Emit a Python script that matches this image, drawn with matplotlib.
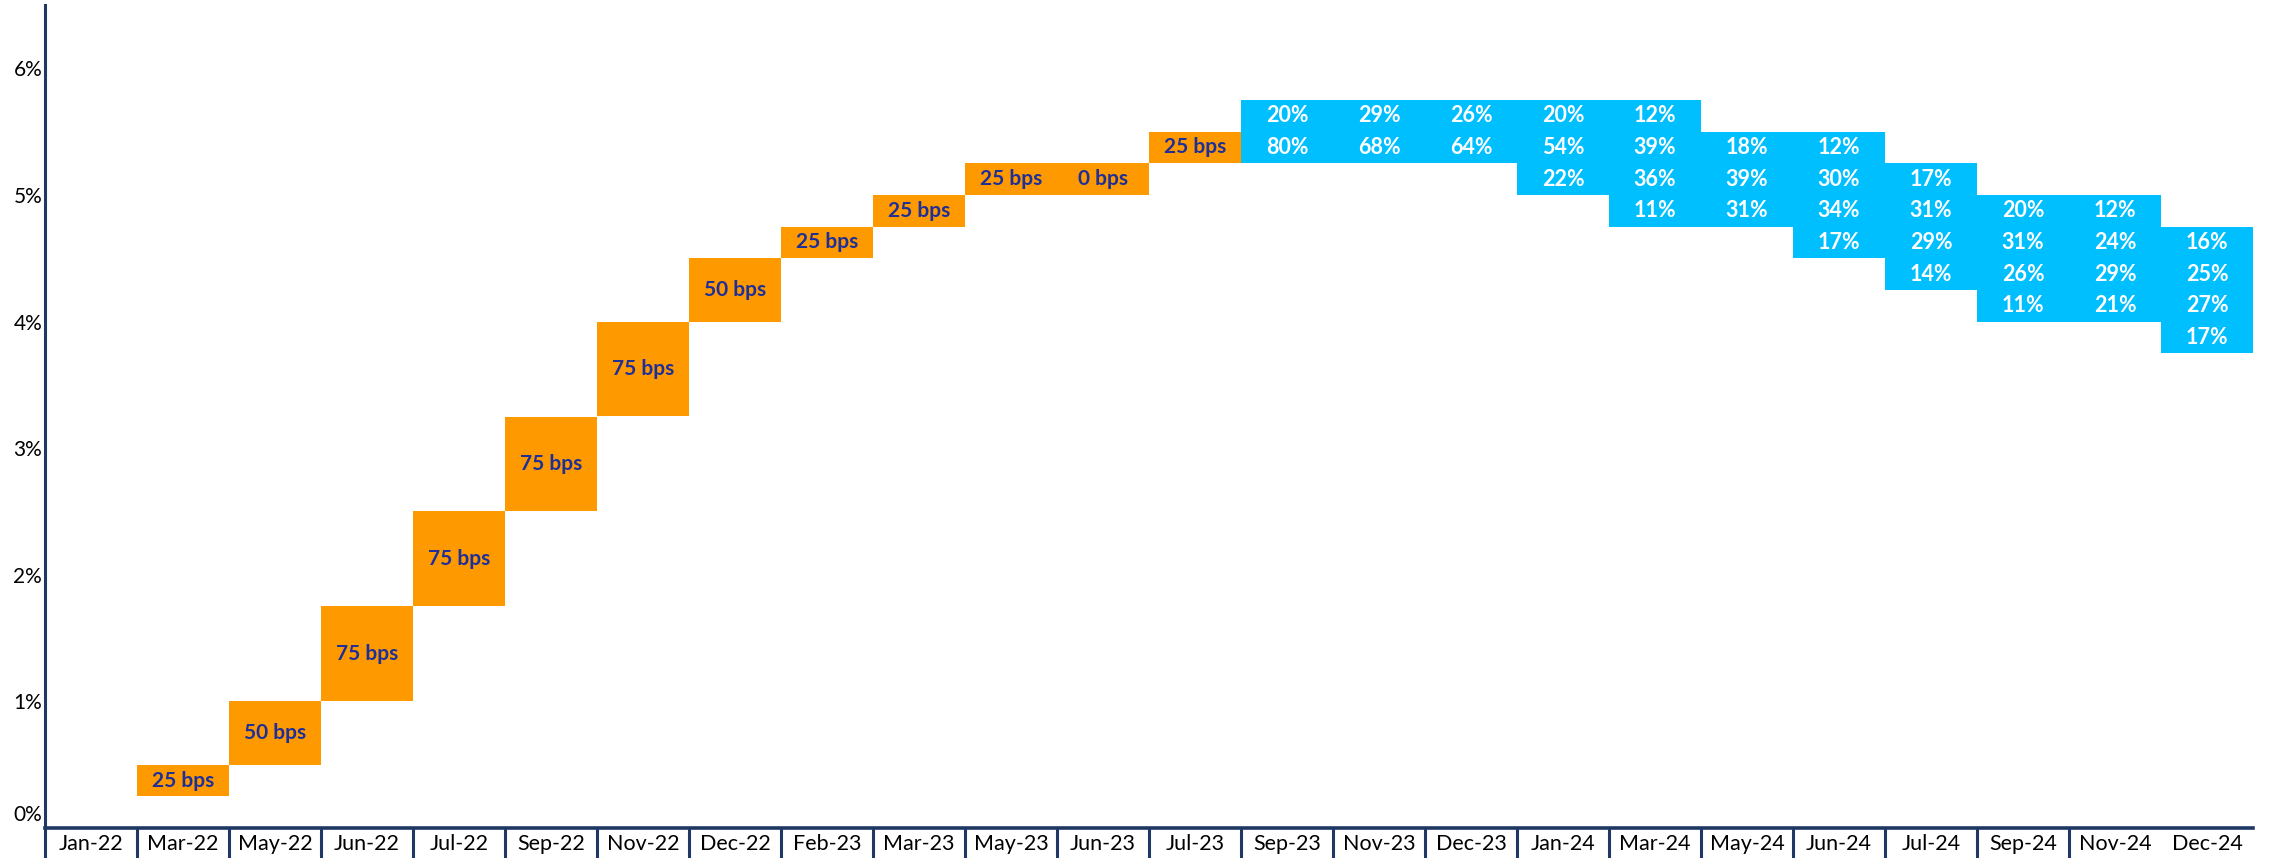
import numpy as np
import matplotlib
matplotlib.use('Agg')
import matplotlib.pyplot as plt
import matplotlib.transforms as mtransforms

plt.rcParams['font.family'] = ['Lato', 'DejaVu Sans']

ORANGE = '#FF9900'
BLUE = '#00BFFF'
NAVY = '#1F3864'
TEXT_BLUE = '#1F2F98'

months = ['Jan-22', 'Mar-22', 'May-22', 'Jun-22', 'Jul-22', 'Sep-22', 'Nov-22', 'Dec-22',
          'Feb-23', 'Mar-23', 'May-23', 'Jun-23', 'Jul-23', 'Sep-23', 'Nov-23', 'Dec-23',
          'Jan-24', 'Mar-24', 'May-24', 'Jun-24', 'Jul-24', 'Sep-24', 'Nov-24', 'Dec-24']

# realised hikes (Mar-22 .. Jul-23): range covered by the move, in %
hike_months = months[1:13]
hike_low = [0.25, 0.50, 1.00, 1.75, 2.50, 3.25, 4.00, 4.50, 4.75, 5.00, 5.00, 5.25]
hike_high = [0.50, 1.00, 1.75, 2.50, 3.25, 4.00, 4.50, 4.75, 5.00, 5.25, 5.25, 5.50]
hike_labels = ['25 bps', '50 bps', '75 bps', '75 bps', '75 bps', '75 bps',
               '50 bps', '25 bps', '25 bps', '25 bps', '0 bps', '25 bps']

# market implied probabilities (Sep-23 .. Dec-24), top bucket upper bound, then top-down
prob_months = months[13:]
prob_top = [5.75, 5.75, 5.75, 5.75, 5.75, 5.50, 5.50, 5.25, 5.00, 5.00, 4.75]
probs = [
    [20, 80],
    [29, 68],
    [26, 64],
    [20, 54, 22],
    [12, 39, 36, 11],
    [18, 39, 31],
    [12, 30, 34, 17],
    [17, 31, 29, 14],
    [20, 31, 26, 11],
    [12, 24, 29, 21],
    [16, 25, 27, 17],
]
step = 0.25

fig = plt.figure(figsize=(22.69, 8.58), dpi=100)
ax = fig.add_axes([45 / 2269, 30 / 858, 2208 / 2269, 823 / 858])

xpos = {m: i for i, m in enumerate(months)}

for m, lo, hi, lab in zip(hike_months, hike_low, hike_high, hike_labels):
    x = xpos[m]
    ax.bar(x, hi - lo, bottom=lo, width=1.0, color=ORANGE, linewidth=0)
    ax.text(x, (lo + hi) / 2, lab, ha='center', va='center', fontsize=15,
            fontweight='bold', color=TEXT_BLUE)

for m, top, ps in zip(prob_months, prob_top, probs):
    x = xpos[m]
    for k, p in enumerate(ps):
        hi = top - k * step
        lo = hi - step
        ax.bar(x, step, bottom=lo, width=1.0, color=BLUE, linewidth=0)
        ax.text(x, (lo + hi) / 2, f'{p}%', ha='center', va='center', fontsize=15.5,
                fontweight='bold', color='white')

ax.set_xlim(-0.5, len(months) - 0.5)
ax.set_ylim(0, 6.5)

ax.set_yticks(range(0, 7))
ax.set_yticklabels([f'{v}%' for v in range(0, 7)], fontsize=15)
ax.tick_params(axis='y', length=0, pad=2)
# lift the 0% label off the axis like the original
off = mtransforms.ScaledTranslation(0, 15 / 100, fig.dpi_scale_trans)
lab0 = ax.get_yticklabels()[0]
lab0.set_transform(lab0.get_transform() + off)

ax.set_xticks(range(len(months)))
ax.set_xticklabels(months, fontsize=15.5)
ax.set_xticks(np.arange(len(months) - 1) - 0.5, minor=True)
ax.tick_params(axis='x', which='major', length=0, pad=4)
ax.tick_params(axis='x', which='minor', length=30, width=2.2, color=NAVY, direction='out')

for s in ['top', 'right']:
    ax.spines[s].set_visible(False)
ax.spines['left'].set_color(NAVY)
ax.spines['left'].set_linewidth(2.2)
ax.spines['bottom'].set_color(NAVY)
ax.spines['bottom'].set_linewidth(2.6)

fig.savefig('out.png', dpi=100)
